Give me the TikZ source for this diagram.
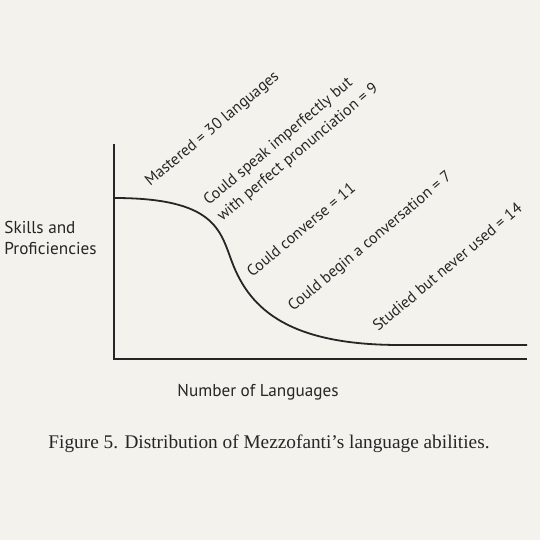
\documentclass[tikz,border=0pt]{standalone}
\usepackage{fontspec}
\setmainfont{Liberation Serif}
\setsansfont{PT Sans}
\usepackage{tikz}
\usetikzlibrary{calc}
\definecolor{paper}{HTML}{F3F2EC}
\definecolor{ink}{HTML}{262626}
\tikzset{
	lbl/.style={font=\sffamily\fontsize{8.6}{10.5}\selectfont, text=ink, inner sep=0pt},
	tilted/.style={lbl, font=\sffamily\fontsize{7.9}{10.5}\selectfont, rotate=40, anchor=base west, align=left}
}

\begin{document}
\begin{tikzpicture}[x=0.5pt, y=-0.5pt]
			%%%%% START %%%%%
			
			\fill[paper] (0, 0) rectangle (540, 540);
			\useasboundingbox (0, 0) rectangle (540, 540);
			
			\coordinate (top) at (114, 144);
			\coordinate (origin) at (114, 359);
			\coordinate (right) at (527, 359);
			\draw[line width=1.2pt, color=ink] (top) -- (origin) -- (right);
			
			\draw[line width=0.9pt, color=ink] (114, 198) .. controls (215, 198) and (220, 230) .. (232, 262)
				.. controls (250, 310) and (290, 345) .. (400, 345) -- (527, 345);
			
			\node[tilted] (mastered) at (150, 187) {Mastered = 30 languages};
			\node[tilted] (speak) at (222, 222) {Could speak imperfectly but\\with perfect pronunciation = 9};
			\node[tilted] (converse) at (252, 278) {Could converse = 11};
			\node[tilted] (begin) at (293, 312) {Could begin a conversation = 7};
			\node[tilted] (studied) at (378, 332) {Studied but never used = 14};
			
			\node[lbl, anchor=base west] (skills) at (4, 233) {Skills and};
			\node[lbl, anchor=base west] (prof) at (4, 254) {Proficiencies};
			
			\node[lbl, anchor=base] (number) at (258, 396) {Number of Languages};
			
			\node[font=\fontsize{9.65}{11}\selectfont, text=ink, inner sep=0pt, anchor=base] (caption) at (269, 448)
				{Figure 5. Distribution of Mezzofanti’s language abilities.};
			
			%%%%% END %%%%%
\end{tikzpicture}
\end{document}
